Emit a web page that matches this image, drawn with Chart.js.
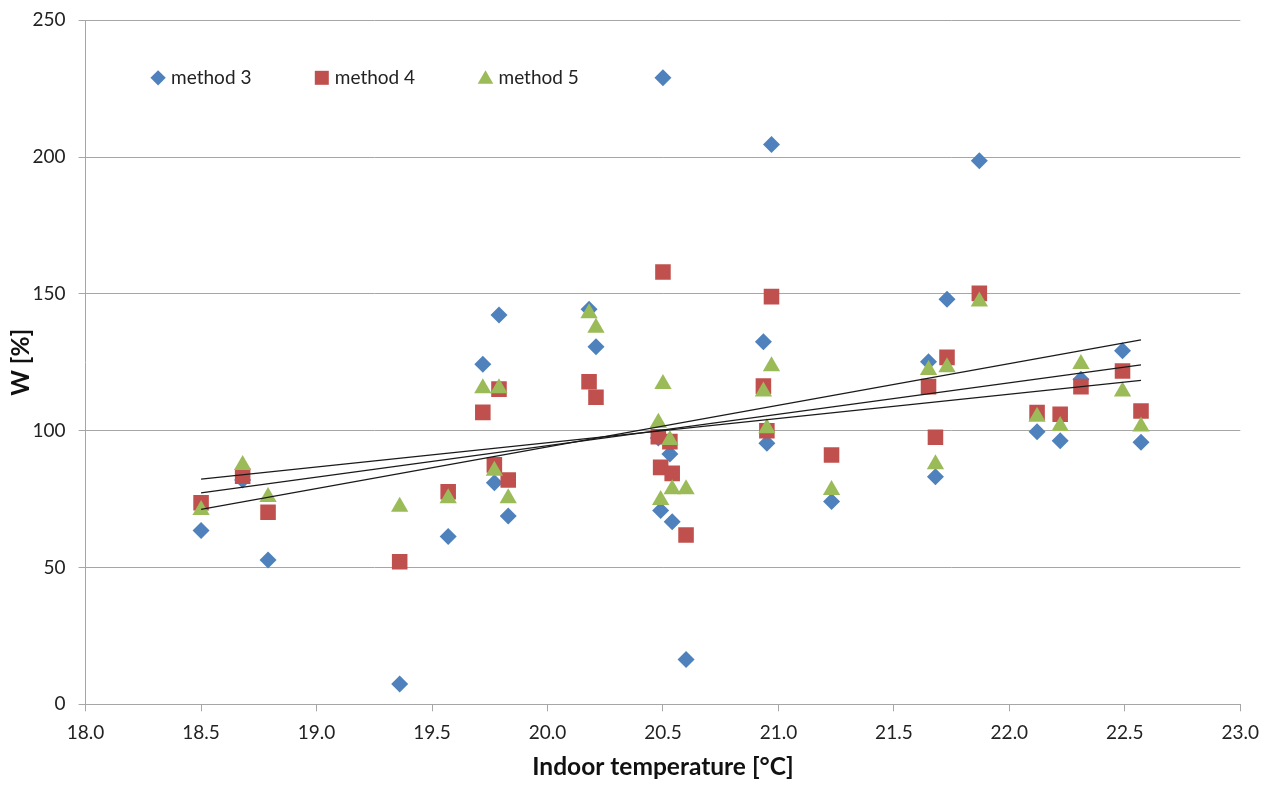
<!DOCTYPE html>
<html>
<head>
<meta charset="utf-8">
<script src="https://cdn.jsdelivr.net/npm/chart.js@4/dist/chart.umd.min.js"></script>
<style>
  html, body { margin: 0; padding: 0; background: #fff; }
  #grafico { display: block; }
</style>
</head>
<body>
<canvas id="grafico" width="1270" height="785"></canvas>
<script>
// temperatura interna [°C], uma por medição
var temperatura = [18.50, 18.68, 18.79, 19.36, 19.57, 19.72, 19.77, 19.79, 19.83, 20.18,
                   20.21, 20.48, 20.49, 20.50, 20.53, 20.54, 20.60, 20.935, 20.95, 20.97,
                   21.23, 21.65, 21.68, 21.73, 21.87, 22.12, 22.22, 22.31, 22.49, 22.57];

// W [%] por método
var metodo3 = [63.5, 82, 52.7, 7.4, 61.3, 124.3, 81, 142.3, 68.8, 144.4,
               130.7, 97.3, 70.8, 229.0, 91.5, 66.7, 16.4, 132.5, 95.4, 204.6,
               74.1, 125.2, 83.2, 148, 198.7, 99.6, 96.3, 118.8, 129.2, 95.8];
var metodo4 = [73.7, 83.4, 70.2, 52.1, 77.7, 106.7, 87.5, 115.2, 82, 117.9,
               112.2, 97.8, 86.6, 158.0, 96, 84.4, 61.9, 116.3, 100, 149,
               91.1, 116.1, 97.6, 126.8, 150.2, 106.6, 106, 116.1, 121.8, 107.2];
var metodo5 = [71, 87.5, 75.8, 72.2, 75.3, 115.5, 85.4, 115.5, 75.3, 142.9,
               137.6, 102.9, 74.7, 117.1, 96.6, 78.6, 78.6, 114.3, 100.9, 123.6,
               78.3, 122.2, 87.7, 123.2, 147.2, 105.1, 101.7, 124.4, 114.3, 101.5];

var nomesSeries = ["method 3", "method 4", "method 5"];
var ticksX = [18.0, 18.5, 19.0, 19.5, 20.0, 20.5, 21.0, 21.5, 22.0, 22.5, 23.0];
var ticksY = [0, 50, 100, 150, 200, 250];

var cores = ["#4F81BD", "#C0504D", "#9BBB59"];
var estilos = ["rectRot", "rect", "triangle"];
var raios = [8.5, 11, 10];
var fonte = "Lato, 'Open Sans', sans-serif";

function montarPontos(ys) {
    return temperatura.map(function (t, i) { return { x: t, y: ys[i] }; });
}

// linha de tendência (mínimos quadrados) entre o menor e o maior x
function tendencia(ys) {
    var n = temperatura.length, sx = 0, sy = 0, sxx = 0, sxy = 0;
    for (var i = 0; i < n; i++) {
        sx += temperatura[i]; sy += ys[i];
        sxx += temperatura[i] * temperatura[i]; sxy += temperatura[i] * ys[i];
    }
    var b = (n * sxy - sx * sy) / (n * sxx - sx * sx);
    var a = (sy - b * sx) / n;
    var x0 = Math.min.apply(null, temperatura), x1 = Math.max.apply(null, temperatura);
    return [{ x: x0, y: a + b * x0 }, { x: x1, y: a + b * x1 }];
}

var series = [metodo3, metodo4, metodo5];
var datasets = [];
series.forEach(function (ys, i) {
    datasets.push({
        label: nomesSeries[i],
        data: montarPontos(ys),
        showLine: false,
        pointStyle: estilos[i],
        pointRadius: raios[i],
        pointHoverRadius: raios[i],
        pointBackgroundColor: cores[i],
        pointBorderColor: cores[i],
        pointBorderWidth: 0,
        backgroundColor: cores[i],
        borderColor: cores[i],
        order: 3 - i
    });
});
series.forEach(function (ys, i) {
    datasets.push({
        label: "trend " + nomesSeries[i],
        data: tendencia(ys),
        showLine: true,
        pointRadius: 0,
        borderColor: "#1a1a1a",
        borderWidth: 1.3,
        fill: false,
        order: 0
    });
});

// legenda dentro da área do gráfico, como no original
var legendaInterna = {
    id: "legendaInterna",
    afterDraw: function (chart) {
        var ctx = chart.ctx;
        var area = chart.chartArea;
        var y = area.top + 57.5;
        var x = area.left + 72.5;
        ctx.save();
        ctx.font = "19px " + fonte;
        ctx.textBaseline = "middle";
        ctx.textAlign = "left";
        for (var i = 0; i < nomesSeries.length; i++) {
            var px = x + i * 163.7;
            ctx.fillStyle = cores[i];
            Chart.helpers.drawPoint(ctx, { pointStyle: estilos[i], radius: raios[i] * 0.9, rotation: 0, borderWidth: 0 }, px, y + (i === 2 ? 1.5 : 0));
            ctx.fillStyle = "#222";
            ctx.fillText(nomesSeries[i], px + 13, y);
        }
        ctx.restore();
    }
};

new Chart(document.getElementById("grafico"), {
    type: "scatter",
    data: { datasets: datasets },
    plugins: [legendaInterna],
    options: {
        responsive: false,
        animation: false,
        layout: { padding: { left: 0, right: 29.7, top: 20.3, bottom: 0 } },
        plugins: {
            legend: { display: false },
            tooltip: { enabled: false }
        },
        scales: {
            x: {
                type: "linear",
                min: 18, max: 23,
                afterBuildTicks: function (scale) {
                    scale.ticks = ticksX.map(function (v) { return { value: v }; });
                },
                afterFit: function (scale) { scale.height = 80.7; },
                grid: { drawOnChartArea: false, drawTicks: true, tickLength: 7, color: "#a6a6a6", lineWidth: 1 },
                border: { color: "#a6a6a6", width: 1 },
                ticks: {
                    padding: 10,
                    color: "#222",
                    font: { family: fonte, size: 19 },
                    callback: function (v) { return Number(v).toFixed(1); }
                },
                title: {
                    display: true,
                    text: "Indoor temperature [°C]",
                    color: "#111",
                    font: { family: fonte, size: 24.5, weight: "bold" },
                    padding: { top: 0, bottom: 3 }
                }
            },
            y: {
                min: 0, max: 250,
                afterBuildTicks: function (scale) {
                    scale.ticks = ticksY.map(function (v) { return { value: v }; });
                },
                afterFit: function (scale) {
                    scale.width = 85.6;
                    scale.paddingTop = 0;
                    scale.paddingBottom = 0;
                },
                grid: { color: "#a6a6a6", lineWidth: 1, drawTicks: true, tickLength: 7 },
                border: { color: "#a6a6a6", width: 1 },
                ticks: {
                    padding: 13,
                    color: "#222",
                    font: { family: fonte, size: 19 }
                },
                title: {
                    display: true,
                    text: "W [%]",
                    color: "#111",
                    font: { family: fonte, size: 24.5, weight: "bold" },
                    padding: { top: 6, bottom: 0 }
                }
            }
        }
    }
});
</script>
</body>
</html>
